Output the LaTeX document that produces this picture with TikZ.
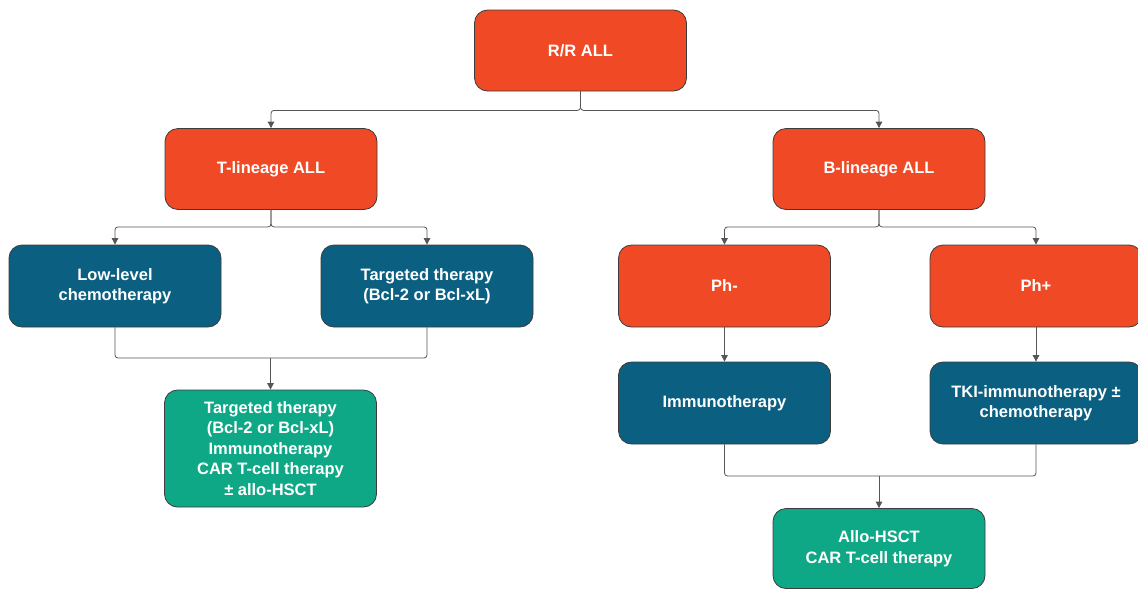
\documentclass[tikz,border=0pt]{standalone}
\usepackage{fontspec}
\setmainfont{Liberation Sans}
\usetikzlibrary{arrows.meta}
\definecolor{redbox}{HTML}{F04925}
\definecolor{bluebox}{HTML}{0B5F80}
\definecolor{greenbox}{HTML}{0FA886}
\definecolor{edgegray}{HTML}{3C3C3C}
\definecolor{linkgray}{HTML}{555555}
\begin{document}
\begin{tikzpicture}[x=1pt,y=-1pt,
  box/.style={draw=edgegray, line width=0.8pt, rounded corners=13pt,
    minimum width=212pt, minimum height=81pt, inner sep=2pt,
    text=white, align=center, font=\fontsize{16.5}{20.5}\selectfont\bfseries},
  redb/.style={box, fill=redbox},
  blueb/.style={box, fill=bluebox},
  greenb/.style={box, fill=greenbox},
  link/.style={draw=linkgray, line width=0.8pt, rounded corners=3pt},
  arr/.style={link, -{Triangle[length=6.5pt,width=6.5pt]}}]
\useasboundingbox (0,0) rectangle (1138,590);

% top level
\node[redb] (rr) at (580.5,50.5) {R/R ALL};

% lineages
\node[redb] (tl) at (271,169) {T-lineage ALL};
\node[redb] (bl) at (879,169) {B-lineage ALL};

% T-lineage branch
\node[blueb, minimum height=82pt] (low) at (115,286) {Low-level\\chemotherapy};
\node[blueb, minimum height=82pt] (tgt) at (427,286) {Targeted therapy\\(Bcl-2 or Bcl-xL)};
\node[greenb, minimum height=117pt] (tout) at (270.5,448.5)
  {Targeted therapy\\(Bcl-2 or Bcl-xL)\\Immunotherapy\\CAR T-cell therapy\\\textpm{} allo-HSCT};

% B-lineage branch
\node[redb, minimum height=82pt] (phm) at (724.5,286) {Ph-};
\node[redb, minimum height=82pt] (php) at (1036,286) {Ph+};
\node[blueb, minimum height=82pt] (imm) at (724.5,403) {Immunotherapy};
\node[blueb, minimum height=82pt] (tki) at (1036,403) {TKI-immunotherapy \textpm\\chemotherapy};
\node[greenb, minimum height=80pt] (allo) at (879,548.5) {Allo-HSCT\\CAR T-cell therapy};

% split connectors
\draw[arr] (rr.south) -- ++(0,19) -| (tl.north);
\draw[arr] (rr.south) -- ++(0,19) -| (bl.north);
\draw[arr] (tl.south) -- ++(0,17) -| (low.north);
\draw[arr] (tl.south) -- ++(0,17) -| (tgt.north);
\draw[arr] (bl.south) -- ++(0,17) -| (phm.north);
\draw[arr] (bl.south) -- ++(0,17) -| (php.north);
\draw[arr] (phm.south) -- (imm.north);
\draw[arr] (php.south) -- (tki.north);

% merge connectors
\coordinate (tj) at (tout.north |- 0,358);
\draw[link] (low.south) |- (tj);
\draw[link] (tgt.south) |- (tj);
\draw[arr] (tj) -- (tout.north);

\coordinate (bj) at (allo.north |- 0,476);
\draw[link] (imm.south) |- (bj);
\draw[link] (tki.south) |- (bj);
\draw[arr] (bj) -- (allo.north);
\end{tikzpicture}
\end{document}
